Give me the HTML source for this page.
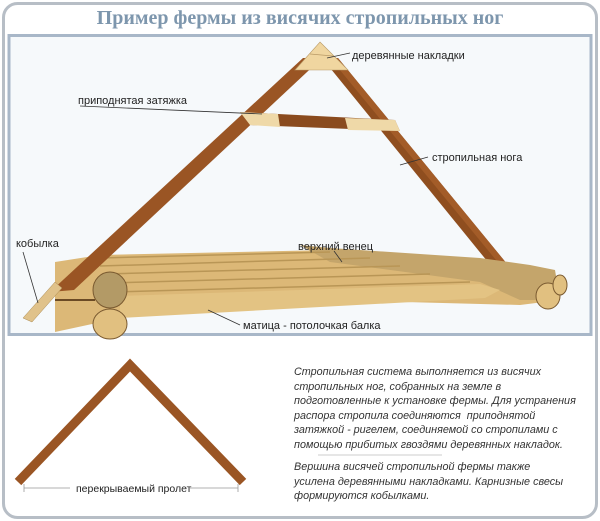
<!DOCTYPE html>
<html><head><meta charset="utf-8"><style>
body{margin:0;width:600px;height:521px;background:#fff;overflow:hidden;font-family:"Liberation Sans",sans-serif}
.t{position:absolute;left:294px;font-style:italic;font-size:10.8px;color:#333;line-height:14.5px;white-space:nowrap}
</style></head><body>
<svg width="600" height="521" style="position:absolute;left:0;top:0" font-family="Liberation Sans, sans-serif">
<rect x="3.5" y="3.5" width="593" height="514" rx="14" fill="#fff" stroke="#b7bec6" stroke-width="3"/>
<text x="300" y="24" text-anchor="middle" font-family="Liberation Serif, serif" font-weight="bold" font-size="20" fill="#7d96ad">Пример фермы из висячих стропильных ног</text>
<rect x="9" y="35.5" width="582" height="299" fill="#f6f9fb" stroke="#a8b7c8" stroke-width="3"/>
<!-- right rafter -->
<polygon points="322,58 338,58 512,270 496,272" fill="#8f4e1f"/>
<polygon points="330,58 338,58 512,270 505,271" fill="#a35c28"/>
<!-- logs -->
<polygon points="55,262 100,255 330,250 470,262 555,272 560,300 520,305 330,300 120,318 55,332" fill="#dcb877"/>
<polygon points="300,245 330,248 480,258 530,265 555,270 560,300 520,300 480,282 330,262" fill="#c4a56b"/>
<g stroke="#b99656" stroke-width="1.5">
<line x1="100" y1="258" x2="330" y2="252"/>
<line x1="100" y1="266" x2="370" y2="258"/>
<line x1="105" y1="274" x2="400" y2="266"/>
<line x1="110" y1="283" x2="430" y2="274"/>
<line x1="115" y1="292" x2="470" y2="282"/>
</g>
<polygon points="120,296 480,284 500,290 485,298 120,318" fill="#e3c383"/>
<line x1="55" y1="300" x2="95" y2="300" stroke="#6b4a24" stroke-width="2"/>
<ellipse cx="110" cy="290" rx="17" ry="18" fill="#b39a66" stroke="#7a5a30"/>
<ellipse cx="110" cy="324" rx="17" ry="15" fill="#e1c080" stroke="#7a5a30"/>
<ellipse cx="548" cy="296" rx="12" ry="13" fill="#e1c080" stroke="#7a5a30"/>
<ellipse cx="560" cy="285" rx="7" ry="10" fill="#e1c080" stroke="#7a5a30"/>
<!-- left rafter -->
<polygon points="303,58 322,58 74,290 50,292" fill="#9a5524"/>
<!-- kobylka -->
<polygon points="23,318 55,282 62,288 32,322" fill="#e0c28a" stroke="#a88850" stroke-width="0.5"/>
<!-- tie -->
<polygon points="240,112 395,120 400,131 250,125" fill="#8a4b1e"/>
<polygon points="240,112 278,114 280,127 250,125" fill="#efd9a8"/>
<polygon points="345,118 395,120 400,131 348,130" fill="#efd9a8"/>
<!-- gusset -->
<polygon points="320,42 348,70 295,70" fill="#f0d6a0" stroke="#b99a66" stroke-width="0.6"/>
<line x1="310" y1="54" x2="333" y2="56" stroke="#b99a66" stroke-width="0.8"/>
<g font-size="11" fill="#222">
<text x="352" y="59">деревянные накладки</text>
<text x="78" y="104">приподнятая затяжка</text>
<text x="432" y="161">стропильная нога</text>
<text x="298" y="250">верхний венец</text>
<text x="16" y="247">кобылка</text>
<text x="243" y="329">матица - потолочкая балка</text>
</g>
<g stroke="#333" stroke-width="0.8" fill="none">
<line x1="327" y1="58" x2="350" y2="53"/>
<line x1="80" y1="106" x2="262" y2="114"/>
<line x1="400" y1="165" x2="428" y2="157"/>
<line x1="334" y1="251" x2="342" y2="262"/>
<line x1="23" y1="252" x2="38" y2="303"/>
<line x1="208" y1="310" x2="240" y2="325"/>
</g>
<!-- bottom truss -->
<polyline points="18,482 130,365 243,482" fill="none" stroke="#9a5524" stroke-width="9" stroke-linejoin="miter"/>
<g stroke="#999" stroke-width="0.8">
<line x1="24" y1="488" x2="70" y2="488"/><line x1="190" y1="488" x2="238" y2="488"/>
<line x1="24" y1="484" x2="24" y2="492"/><line x1="238" y1="484" x2="238" y2="492"/>
<line x1="318" y1="455" x2="442" y2="455" stroke="#bbb"/>
</g>
<text x="76" y="492" font-size="10.5" fill="#222">перекрываемый пролет</text>
</svg>
<div class="t" style="top:365px">Стропильная система выполняется из висячих<br>стропильных ног, собранных на земле в<br>подготовленные к установке фермы. Для устранения<br>распора стропила соединяются&nbsp; приподнятой<br>затяжкой - ригелем, соединяемой со стропилами с<br>помощью прибитых гвоздями деревянных накладок.</div>
<div class="t" style="top:460px">Вершина висячей стропильной фермы также<br>усилена деревянными накладками. Карнизные свесы<br>формируются кобылками.</div>
</body></html>
